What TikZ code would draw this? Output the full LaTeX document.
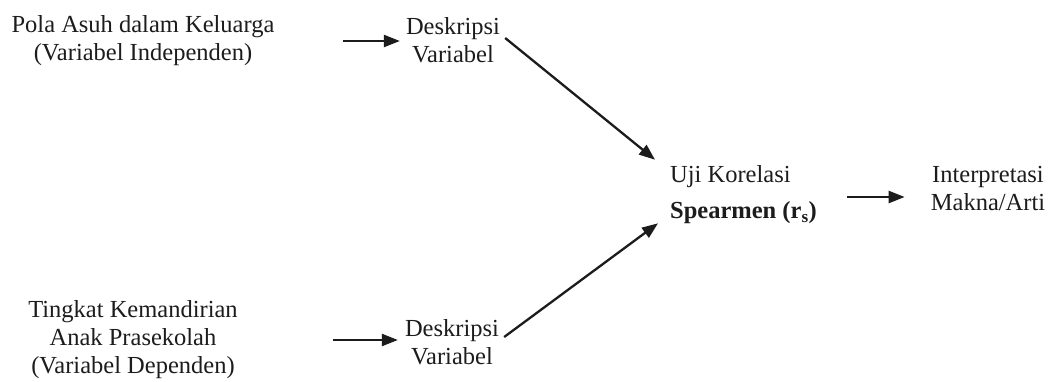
\documentclass[tikz,border=0pt]{standalone}
\usepackage{fontspec}
\setmainfont{Liberation Serif}
\usetikzlibrary{arrows.meta}
\definecolor{ink}{HTML}{1C1C1C}
\begin{document}
\begin{tikzpicture}[x=1pt,y=-1pt,
  txt/.style={font=\fontsize{24.5}{28}\selectfont, text=ink, align=center, inner sep=3pt},
  arr/.style={draw=ink, line width=2.3pt, -{Triangle[length=16pt,width=12pt]}},
]
\useasboundingbox[fill=white] (0,0) rectangle (1052,381);

% variables
\node[txt] (src1) at (143,41) {Pola Asuh dalam Keluarga\\(Variabel Independen)};
\node[txt] (src2) at (133,340) {Tingkat Kemandirian\\Anak Prasekolah\\(Variabel Dependen)};

% descriptive steps
\node[txt] (d1) at (453,40) {Deskripsi\\Variabel};
\node[txt] (d2) at (452,342) {Deskripsi\\Variabel};

% correlation test and interpretation
\node[txt, align=left, anchor=west] (uji) at (667,195) {Uji Korelasi\\[8pt]\textbf{Spearmen (r\textsubscript{s})}};
\node[txt] (interp) at (988,189) {Interpretasi\\Makna/Arti};

% connectors
\draw[arr, shorten <=65pt, shorten >=3pt] (src1.east) -- (src1.east -| d1.west);
\draw[arr, shorten <=92pt, shorten >=4pt] (src2.east) -- (src2.east -| d2.west);
\draw[arr] ([shift={(2,-2)}]d1.east) -- ([shift={(-12,-3)}]uji.north west);
\draw[arr] ([shift={(2,-5)}]d2.east) -- ([shift={(-9,-4)}]uji.south west);
\draw[arr, shorten <=27pt, shorten >=23pt] ([yshift=-2pt]uji.east) -- ([yshift=-2pt]uji.east -| interp.west);
\end{tikzpicture}
\end{document}
